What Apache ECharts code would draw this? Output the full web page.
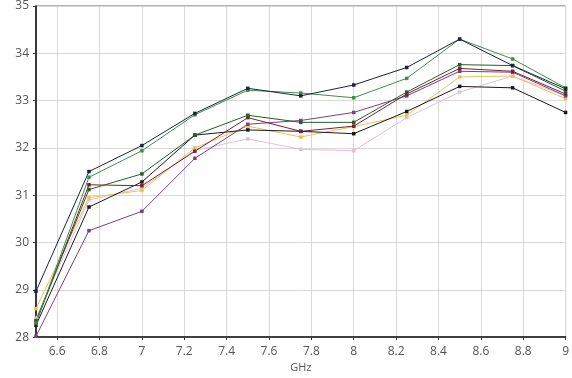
<!DOCTYPE html>
<html><head><meta charset="utf-8">
<script src="https://cdn.jsdelivr.net/npm/echarts@6/dist/echarts.min.js"></script>
<style>html,body{margin:0;padding:0;background:#fff}#c{width:572px;height:378px}</style>
</head><body><div id="c"></div>
<script>
const freqs = [6.5, 6.75, 7, 7.25, 7.5, 7.75, 8, 8.25, 8.5, 8.75, 9];
const xTicks = [6.6, 6.8, 7, 7.2, 7.4, 7.6, 7.8, 8, 8.2, 8.4, 8.6, 8.8, 9];
const navy   = [28.97, 31.50, 32.05, 32.73, 33.26, 33.10, 33.33, 33.70, 34.30, 33.74, 33.25];
const green  = [28.30, 31.38, 31.94, 32.70, 33.22, 33.16, 33.06, 33.47, 34.30, 33.88, 33.27];
const dkgreen= [28.35, 31.12, 31.45, 32.27, 32.69, 32.54, 32.54, 33.18, 33.76, 33.74, 33.20];
const maroon = [28.30, 31.22, 31.20, 31.93, 32.64, 32.35, 32.46, 33.14, 33.68, 33.62, 33.14];
const black  = [28.25, 30.75, 31.28, 32.27, 32.38, 32.35, 32.30, 32.77, 33.30, 33.27, 32.75];
const purple = [28.02, 30.25, 30.66, 31.78, 32.50, 32.58, 32.75, 33.10, 33.62, 33.60, 33.10];
const yellow = [28.60, 30.95, 31.10, 32.00, 32.46, 32.23, 32.45, 32.69, 33.50, 33.52, 33.04];
const pink   = [28.40, 30.90, 31.15, 31.95, 32.19, 31.97, 31.94, 32.64, 33.18, 33.52, 33.10];

const seriesDefs = [
  [pink, '#e6bfd6'], [yellow, '#e8c25a'], [purple, '#7b3f86'], [black, '#1a1a1a'],
  [maroon, '#7a1f30'], [dkgreen, '#255c2c'], [green, '#3f8f45'], [navy, '#1c2240']
];
const chart = echarts.init(document.getElementById('c'), null, {renderer: 'canvas'});
chart.setOption({
  animation: false,
  grid: {left: 36, top: 5, right: 6, bottom: 34, show: true, borderColor: '#666', borderWidth: 1},
  xAxis: {
    type: 'value', min: 6.5, max: 9,
    name: 'GHz', nameLocation: 'middle', nameGap: 23,
    nameTextStyle: {color: '#555', fontSize: 11, fontFamily: 'Open Sans'},
    axisLine: {lineStyle: {color: '#111', width: 1.5}},
    axisTick: {show: true, length: 3, lineStyle: {color: '#333'}, customValues: xTicks},
    axisLabel: {color: '#555', fontSize: 12, fontFamily: 'Open Sans', margin: 8, customValues: xTicks,
      formatter: v => String(+v.toFixed(1))},
    splitLine: {show: true, lineStyle: {color: '#d9d9d9', width: 1}}
  },
  yAxis: {
    type: 'value', min: 28, max: 35, interval: 1,
    axisLine: {show: true, lineStyle: {color: '#111', width: 1.5}},
    axisTick: {show: true, length: 3, lineStyle: {color: '#333'}},
    axisLabel: {color: '#555', fontSize: 12, fontFamily: 'Open Sans', margin: 7},
    splitLine: {show: true, lineStyle: {color: '#d9d9d9', width: 1}}
  },
  series: seriesDefs.map(([vals, col]) => ({
    type: 'line',
    data: freqs.map((f, i) => [f, vals[i]]),
    symbol: 'rect', symbolSize: 3.5,
    lineStyle: {color: col, width: 1},
    itemStyle: {color: col}
  }))
});
</script></body></html>
